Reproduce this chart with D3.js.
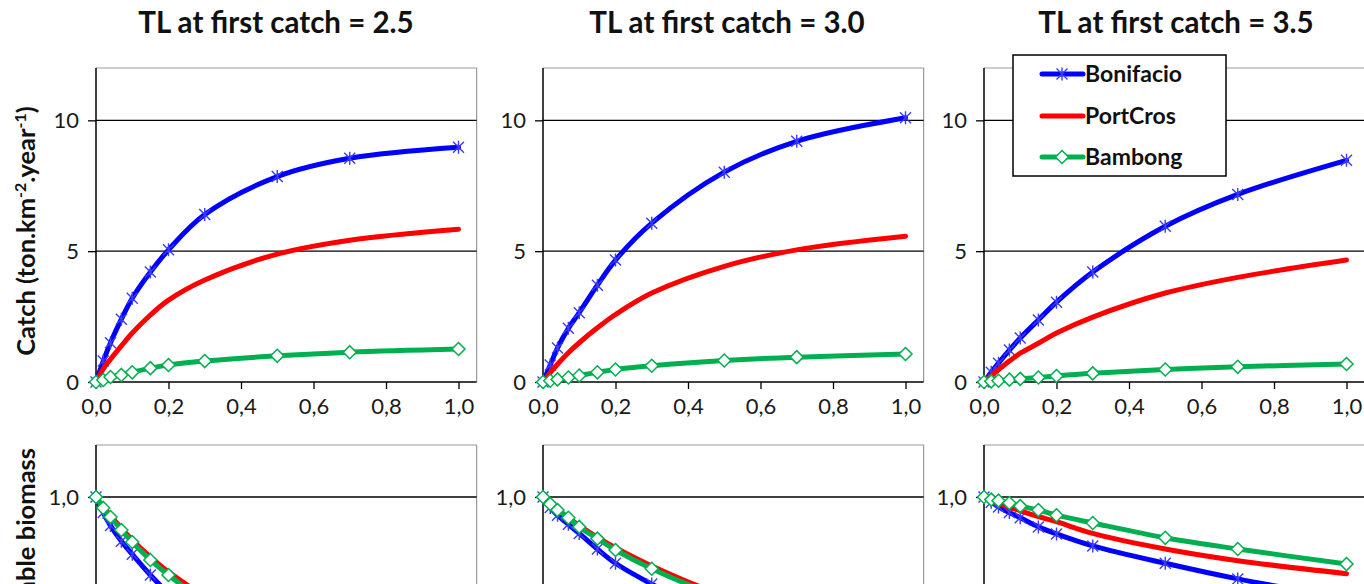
<!DOCTYPE html>
<html>
<head>
<meta charset="utf-8">
<script src="https://cdn.jsdelivr.net/npm/d3@7"></script>
<style>
  html, body { margin: 0; padding: 0; background: #fff; }
  svg { display: block; font-family: Lato, "Open Sans", sans-serif; }
</style>
</head>
<body>
<svg id="chart" width="1364" height="584"></svg>
<script>
// Fishing mortality levels (x axis) shared by every panel
const fishingRates = [0, 0.02, 0.04, 0.07, 0.1, 0.15, 0.2, 0.3, 0.5, 0.7, 1.0];
const sites = ["Bonifacio", "PortCros", "Bambong"];
const panelTitles = ["TL at first catch = 2.5", "TL at first catch = 3.0", "TL at first catch = 3.5"];
const xTicks = [0, 0.2, 0.4, 0.6, 0.8, 1.0];
const catchTicks = [0, 5, 10];
const biomassTicks = [1.0];

// Catch (ton.km-2.year-1), one row per TL at first catch (2.5, 3.0, 3.5)
const catchBonifacio = [
  [0, 0.8, 1.5, 2.4, 3.2, 4.2, 5.05, 6.4, 7.85, 8.55, 8.97],
  [0, 0.65, 1.3, 2.05, 2.65, 3.7, 4.66, 6.07, 8.02, 9.2, 10.1],
  [0, 0.37, 0.72, 1.22, 1.68, 2.37, 3.05, 4.2, 5.95, 7.17, 8.47]
];
const catchPortCros = [
  [0, 0.5, 0.87, 1.38, 1.87, 2.56, 3.13, 3.9, 4.89, 5.42, 5.84],
  [0, 0.36, 0.68, 1.12, 1.5, 2.07, 2.58, 3.4, 4.42, 5.05, 5.57],
  [0, 0.24, 0.47, 0.8, 1.1, 1.48, 1.87, 2.48, 3.4, 4.0, 4.66]
];
const catchBambong = [
  [0, 0.08, 0.19, 0.27, 0.37, 0.53, 0.65, 0.8, 1.0, 1.14, 1.26],
  [0, 0.05, 0.1, 0.17, 0.25, 0.37, 0.48, 0.62, 0.82, 0.95, 1.07],
  [0, 0.025, 0.05, 0.09, 0.12, 0.17, 0.23, 0.33, 0.48, 0.58, 0.69]
];

// Relative exploitable biomass, same layout
const biomassBonifacio = [
  [1, 0.94, 0.89, 0.83, 0.78, 0.70, 0.63, 0.52, 0.37, 0.28, 0.2],
  [1, 0.96, 0.93, 0.895, 0.86, 0.80, 0.745, 0.665, 0.53, 0.43, 0.33],
  [1, 0.98, 0.962, 0.94, 0.92, 0.885, 0.858, 0.812, 0.745, 0.685, 0.61]
];
const biomassPortCros = [
  [1, 0.962, 0.928, 0.88, 0.835, 0.77, 0.712, 0.62, 0.49, 0.41, 0.33],
  [1, 0.975, 0.952, 0.92, 0.89, 0.845, 0.805, 0.735, 0.62, 0.54, 0.45],
  [1, 0.985, 0.975, 0.96, 0.947, 0.925, 0.905, 0.86, 0.80, 0.755, 0.705]
];
const biomassBambong = [
  [1, 0.958, 0.923, 0.873, 0.827, 0.758, 0.70, 0.60, 0.47, 0.39, 0.31],
  [1, 0.973, 0.95, 0.92, 0.885, 0.84, 0.796, 0.724, 0.61, 0.53, 0.44],
  [1, 0.99, 0.986, 0.977, 0.965, 0.95, 0.93, 0.9, 0.843, 0.8, 0.742]
];

const colors = { Bonifacio: "#0000ff", PortCros: "#ff0000", Bambong: "#00b050" };
const markerType = { Bonifacio: "star", PortCros: null, Bambong: "diamond" };

const svg = d3.select("#chart");
const panelLefts = [96, 543, 984];
const xUnit = 362.5;           // pixels per unit fishing rate
const fmt = d => d3.format(".1f")(d).replace(".", ",");

function drawMarker(g, type, x, y, color) {
  if (type === "star") {
    const r = 5.5;
    g.append("path")
      .attr("d", `M${x - r},${y - r}L${x + r},${y + r}M${x - r},${y + r}L${x + r},${y - r}M${x},${y - r - 1}L${x},${y + r + 1}`)
      .attr("stroke", "#3a3aff").attr("stroke-width", 1.4).attr("fill", "none");
  } else if (type === "diamond") {
    const r = 6.5;
    g.append("path")
      .attr("d", `M${x},${y - r}L${x + r},${y}L${x},${y + r}L${x - r},${y}Z`)
      .attr("stroke", color).attr("stroke-width", 1.5).attr("fill", "#fff");
  }
}

function drawPanel(left, top, bottomPx, yDomain, ticks, tickFmt, seriesSets, showXAxis) {
  const x = d3.scaleLinear().domain([0, 1.05]).range([left, left + xUnit * 1.05]);
  const y = d3.scaleLinear().domain(yDomain).range([bottomPx, top]);
  const g = svg.append("g");
  const right = x(1.05);

  // frame: light top/right border
  g.append("path")
    .attr("d", `M${left},${top}H${right}V${Math.min(bottomPx, 600)}`)
    .attr("stroke", "#9a9a9a").attr("stroke-width", 1.2).attr("fill", "none");

  // horizontal gridlines
  g.selectAll(".grid").data(ticks.filter(t => t > yDomain[0])).join("line")
    .attr("x1", left).attr("x2", right)
    .attr("y1", d => y(d)).attr("y2", d => y(d))
    .attr("stroke", "#000").attr("stroke-width", 1.3);

  // y axis
  const yAxis = d3.axisLeft(y).tickValues(ticks).tickFormat(tickFmt).tickSize(8).tickPadding(9);
  const ya = g.append("g").attr("transform", `translate(${left},0)`).call(yAxis);
  ya.select(".domain").attr("stroke", "#000").attr("stroke-width", 1.5)
    .attr("d", `M0,${top}V${Math.min(bottomPx, 600)}`);
  ya.selectAll(".tick line").attr("stroke", "#000").attr("stroke-width", 1.3);
  ya.selectAll(".tick text").attr("font-size", 22).attr("fill", "#1a1a1a")
    .attr("font-family", "Lato, sans-serif");

  // x axis
  if (showXAxis) {
    const xAxis = d3.axisBottom(x).tickValues(xTicks).tickFormat(fmt).tickSize(7).tickPadding(9);
    const xa = g.append("g").attr("transform", `translate(0,${bottomPx})`).call(xAxis);
    xa.select(".domain").attr("stroke", "#000").attr("stroke-width", 1.5)
      .attr("d", `M${left},0H${right}`);
    xa.selectAll(".tick line").attr("stroke", "#000").attr("stroke-width", 1.3);
    xa.selectAll(".tick text").attr("font-size", 22).attr("fill", "#1a1a1a")
      .attr("font-family", "Lato, sans-serif");
  }

  const line = d3.line()
    .x((d, i) => x(fishingRates[i]))
    .y(d => y(d))
    .curve(d3.curveCatmullRom.alpha(0.5));

  seriesSets.forEach(s => {
    g.append("path").datum(s.values)
      .attr("d", line)
      .attr("fill", "none")
      .attr("stroke", colors[s.name])
      .attr("stroke-width", 5)
      .attr("stroke-linejoin", "round")
      .attr("stroke-linecap", "round");
    const type = markerType[s.name];
    if (type) {
      s.values.forEach((v, i) => drawMarker(g, type, x(fishingRates[i]), y(v), colors[s.name]));
    }
  });
}

// Top row: catch
panelLefts.forEach((left, p) => {
  drawPanel(left, 68, 382, [0, 12], catchTicks, d3.format("d"), [
    { name: "Bonifacio", values: catchBonifacio[p] },
    { name: "PortCros", values: catchPortCros[p] },
    { name: "Bambong", values: catchBambong[p] }
  ], true);
});

// Bottom row: biomass (lower part continues below the visible area)
panelLefts.forEach((left, p) => {
  drawPanel(left, 445, 757, [0, 1.2], biomassTicks, fmt, [
    { name: "Bonifacio", values: biomassBonifacio[p] },
    { name: "PortCros", values: biomassPortCros[p] },
    { name: "Bambong", values: biomassBambong[p] }
  ], false);
});

// Panel titles
const titleCenters = [276, 727, 1176];
svg.selectAll(".title").data(panelTitles).join("text")
  .attr("x", (d, i) => titleCenters[i]).attr("y", 33)
  .attr("text-anchor", "middle")
  .attr("font-size", 29.5).attr("font-weight", "bold").attr("fill", "#111")
  .text(d => d);

// Y axis titles
const catchLabel = svg.append("text")
  .attr("transform", "translate(35,231) rotate(-90)")
  .attr("text-anchor", "middle")
  .attr("font-size", 25.5).attr("font-weight", "bold").attr("fill", "#111");
catchLabel.append("tspan").text("Catch (ton.km");
catchLabel.append("tspan").attr("baseline-shift", "super").attr("font-size", 16).text("-2");
catchLabel.append("tspan").text(".year");
catchLabel.append("tspan").attr("baseline-shift", "super").attr("font-size", 16).text("-1");
catchLabel.append("tspan").text(")");

svg.append("text")
  .attr("transform", "translate(35,448) rotate(-90)")
  .attr("text-anchor", "end")
  .attr("font-size", 25.5).attr("font-weight", "bold").attr("fill", "#111")
  .text("Relative exploitable biomass");

// Legend
const legend = svg.append("g");
legend.append("rect")
  .attr("x", 1013).attr("y", 55).attr("width", 213).attr("height", 121)
  .attr("fill", "#fff").attr("stroke", "#000").attr("stroke-width", 1.5);
const legendRows = [74, 116, 157];
sites.forEach((name, i) => {
  const yy = legendRows[i];
  legend.append("line")
    .attr("x1", 1042).attr("x2", 1083).attr("y1", yy).attr("y2", yy)
    .attr("stroke", colors[name]).attr("stroke-width", 5).attr("stroke-linecap", "round");
  if (markerType[name]) drawMarker(legend, markerType[name], 1062, yy, colors[name]);
  legend.append("text")
    .attr("x", 1085).attr("y", yy + 8)
    .attr("font-size", 23).attr("font-weight", "bold").attr("fill", "#111")
    .text(name);
});
</script>
</body>
</html>
